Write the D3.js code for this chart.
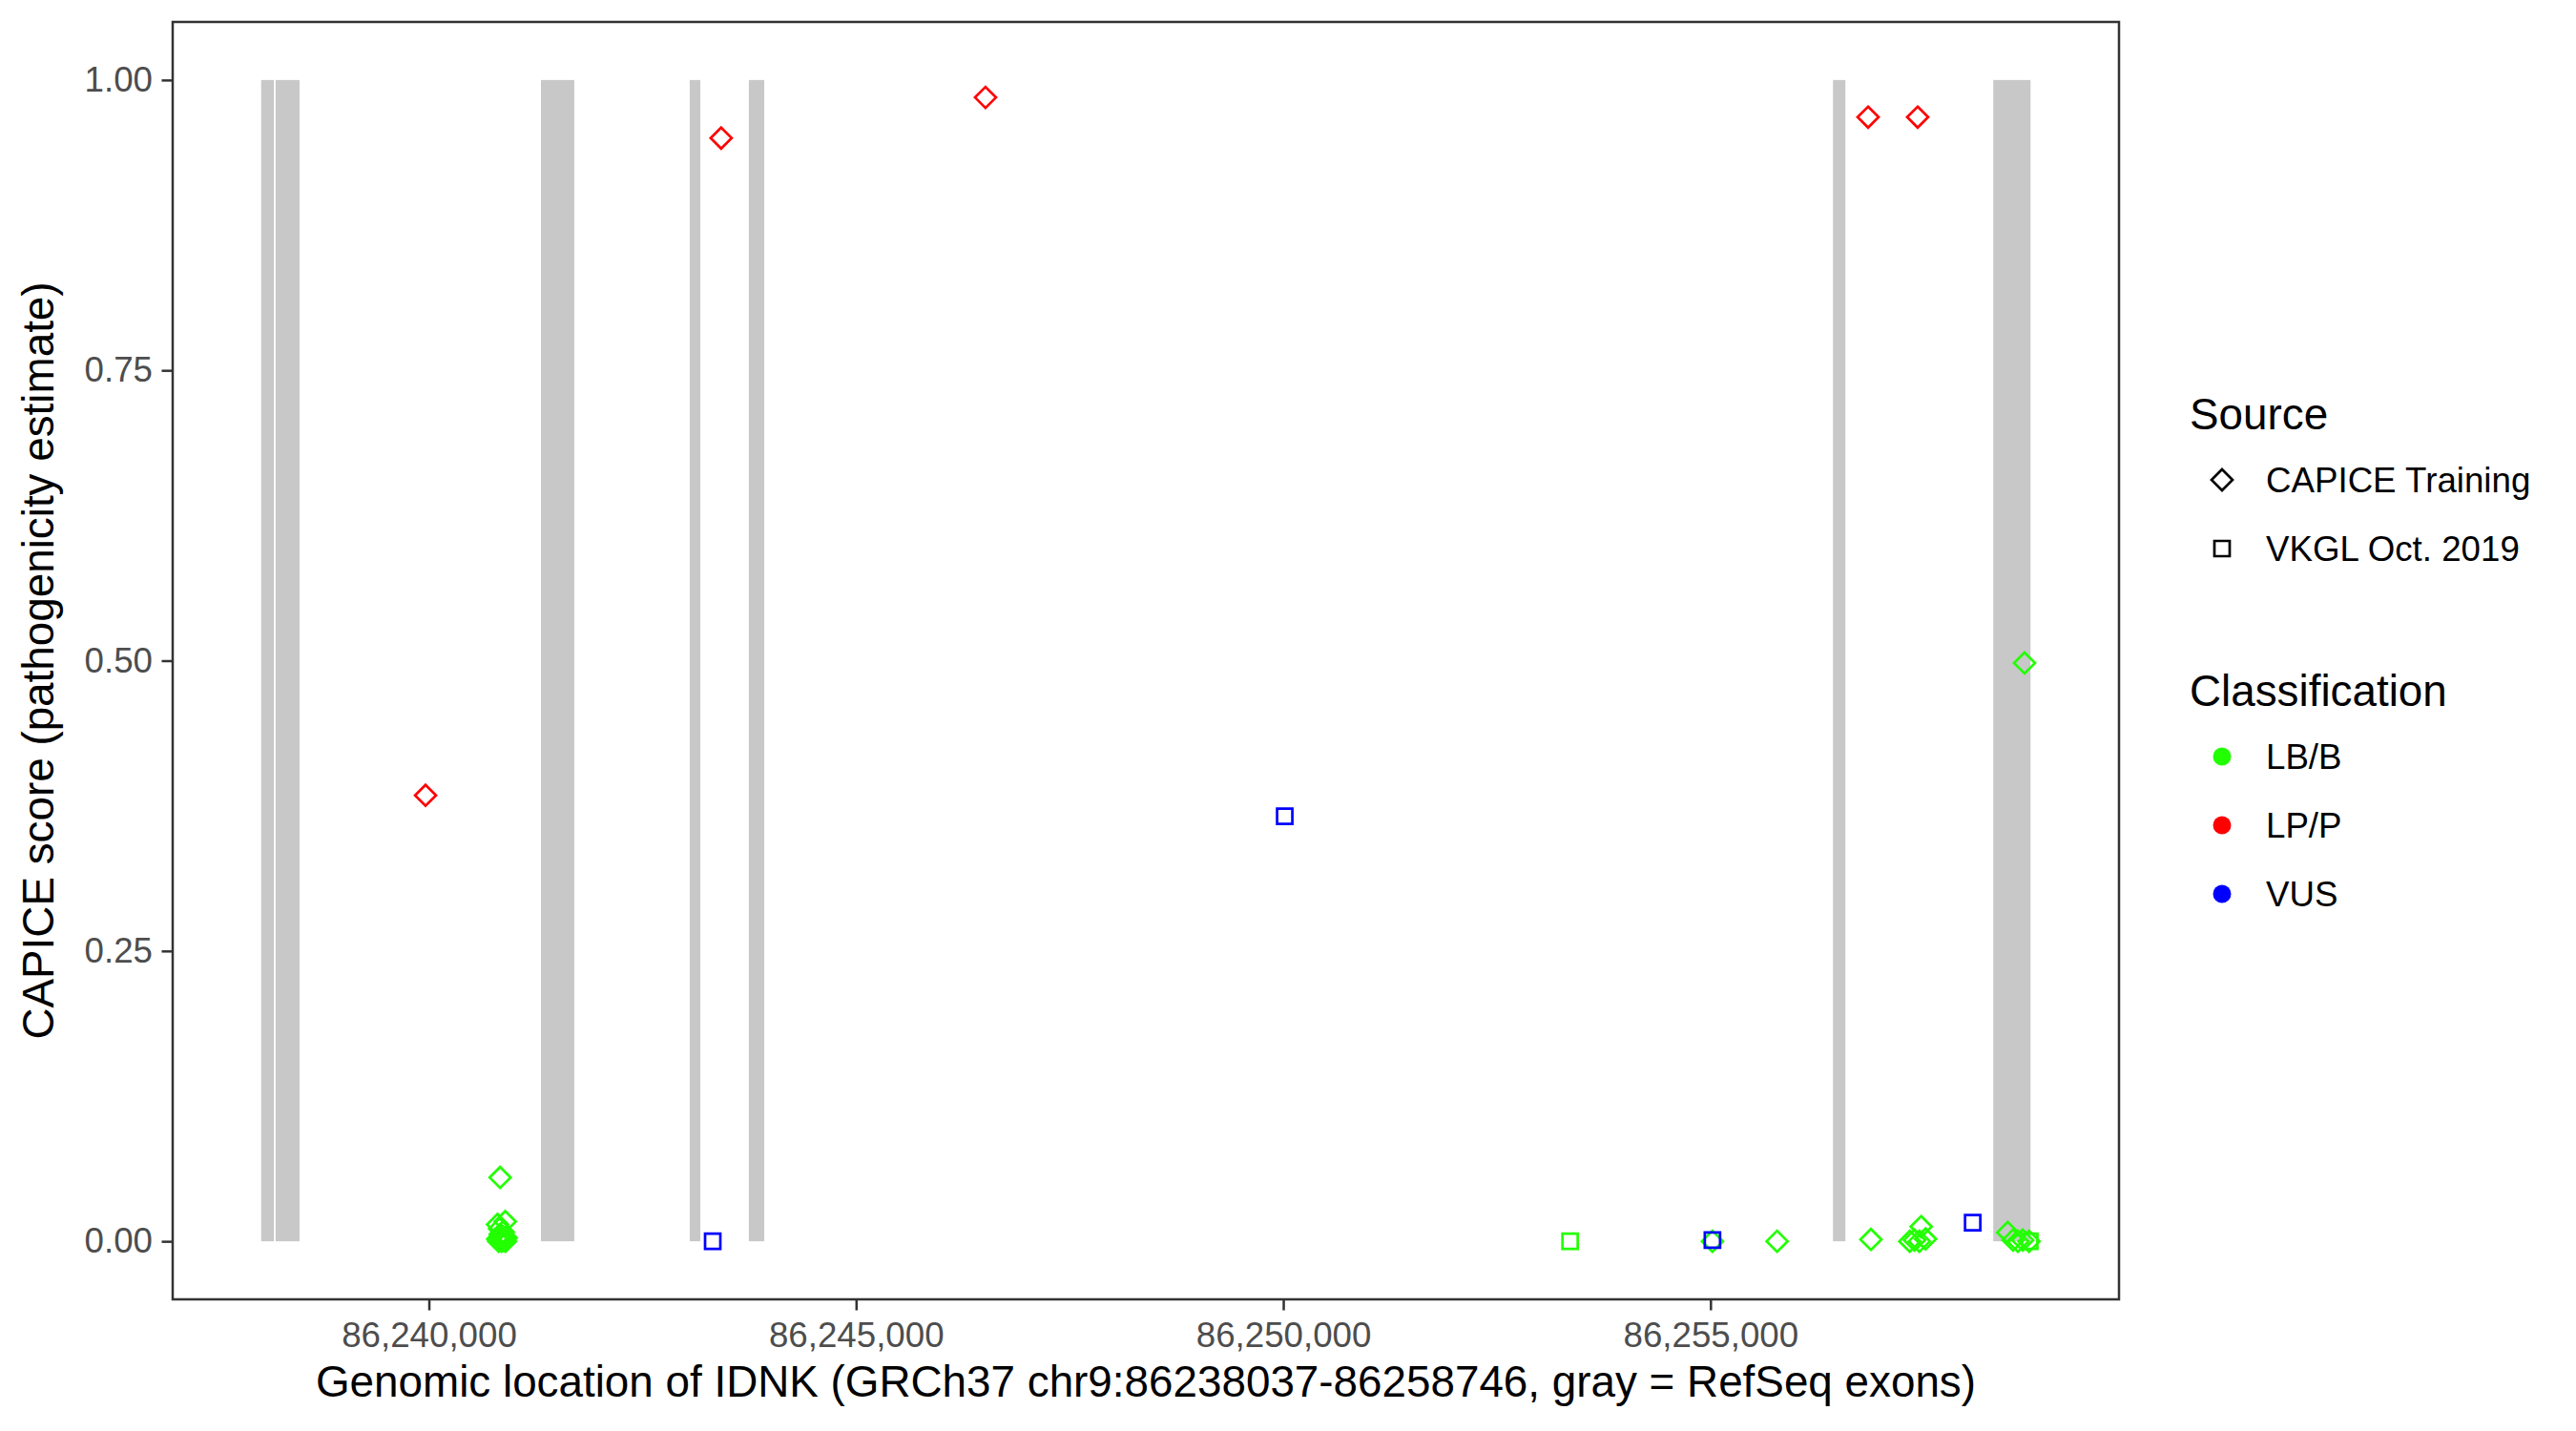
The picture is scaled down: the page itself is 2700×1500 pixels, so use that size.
<!DOCTYPE html>
<html>
<head>
<meta charset="utf-8">
<script src="https://cdn.jsdelivr.net/npm/d3@7"></script>
<style>
  body { margin: 0; background: #fff; }
  svg { display: block; font-family: "Liberation Sans", Arial, Helvetica, sans-serif; }
</style>
</head>
<body>
<div id="chart"></div>
<script>
// RefSeq exons of IDNK (gray bands)
const exonStart = [86238037, 86238206, 86241312, 86243053, 86243745, 86256434, 86258310];
const exonEnd   = [86238186, 86238486, 86241702, 86243177, 86243925, 86256579, 86258746];

// variants: position, CAPICE score, source, classification
const variantPos = [
  86239961, 86240834, 86240894, 86240804, 86240828,
  86240806, 86240818, 86240829, 86240841, 86240852, 86240863, 86240875, 86240886, 86240897, 86240905, 86240835, 86240870,
  86243421, 86246515,
  86255023, 86255780, 86256845, 86256878, 86257333, 86257389, 86257425, 86257445, 86257466, 86257518,
  86258479, 86258542, 86258598, 86258654, 86258676, 86258729,
  86243322, 86250017, 86253357, 86255023, 86258069, 86258737
];
const variantScore = [
  0.384, 0.055, 0.017, 0.0145, 0.0107,
  0.002, 0.000, 0.003, 0.001, 0.000, 0.004, 0.001, 0.002, 0.000, 0.003, 0.006, 0.008,
  0.950, 0.985,
  0.000, 0.000, 0.968, 0.0016, 0.000, 0.001, 0.968, 0.000, 0.0126, 0.002,
  0.0076, 0.001, 0.000, 0.001, 0.498, 0.000,
  0.000, 0.366, 0.000, 0.001, 0.016, 0.000
];
const variantSource = [
  "CAPICE Training", "CAPICE Training", "CAPICE Training", "CAPICE Training", "CAPICE Training",
  "CAPICE Training", "CAPICE Training", "CAPICE Training", "CAPICE Training", "CAPICE Training", "CAPICE Training",
  "CAPICE Training", "CAPICE Training", "CAPICE Training", "CAPICE Training", "CAPICE Training", "CAPICE Training",
  "CAPICE Training", "CAPICE Training",
  "CAPICE Training", "CAPICE Training", "CAPICE Training", "CAPICE Training", "CAPICE Training", "CAPICE Training",
  "CAPICE Training", "CAPICE Training", "CAPICE Training", "CAPICE Training",
  "CAPICE Training", "CAPICE Training", "CAPICE Training", "CAPICE Training", "CAPICE Training", "CAPICE Training",
  "VKGL Oct. 2019", "VKGL Oct. 2019", "VKGL Oct. 2019", "VKGL Oct. 2019", "VKGL Oct. 2019", "VKGL Oct. 2019"
];
const variantClass = [
  "LP/P", "LB/B", "LB/B", "LB/B", "LB/B",
  "LB/B", "LB/B", "LB/B", "LB/B", "LB/B", "LB/B", "LB/B", "LB/B", "LB/B", "LB/B", "LB/B", "LB/B",
  "LP/P", "LP/P",
  "LB/B", "LB/B", "LP/P", "LB/B", "LB/B", "LB/B", "LP/P", "LB/B", "LB/B", "LB/B",
  "LB/B", "LB/B", "LB/B", "LB/B", "LB/B", "LB/B",
  "VUS", "VUS", "LB/B", "VUS", "VUS", "LB/B"
];

const sources = ["CAPICE Training", "VKGL Oct. 2019"];
const classes = ["LB/B", "LP/P", "VUS"];
const classColors = ["#22ff00", "#ff0000", "#0000ff"];
const xTicks = [86240000, 86245000, 86250000, 86255000];
const yTicks = [0, 0.25, 0.5, 0.75, 1];

const geneStart = 86238037, geneEnd = 86258746;

const W = 2700, H = 1500;
const panel = { left: 181, right: 2221, top: 23, bottom: 1362 };

const svg = d3.select('#chart').append('svg')
  .attr('width', W).attr('height', H);
svg.append('rect').attr('width', W).attr('height', H).attr('fill', '#fff');

// ggplot-style 5% expansion
const xPad = (geneEnd - geneStart) * 0.05;
const x = d3.scaleLinear()
  .domain([geneStart - xPad, geneEnd + xPad])
  .range([panel.left, panel.right]);
const y = d3.scaleLinear()
  .domain([-0.05, 1.05])
  .range([panel.bottom, panel.top]);
const color = d3.scaleOrdinal().domain(classes).range(classColors);

const clip = svg.append('defs').append('clipPath').attr('id', 'panel-clip')
  .append('rect')
  .attr('x', panel.left).attr('y', panel.top)
  .attr('width', panel.right - panel.left).attr('height', panel.bottom - panel.top);

const plot = svg.append('g').attr('clip-path', 'url(#panel-clip)');

// exons
plot.append('g').selectAll('rect')
  .data(exonStart.map((s, i) => ({ s, e: exonEnd[i] })))
  .join('rect')
  .attr('x', d => x(d.s))
  .attr('width', d => x(d.e) - x(d.s))
  .attr('y', y(1))
  .attr('height', y(0) - y(1))
  .attr('fill', '#c8c8c8');

// points
const variants = variantPos.map((p, i) => ({
  pos: p, score: variantScore[i], source: variantSource[i], cls: variantClass[i]
}));

const dia = 11, sq = 8;
const diamondPath = `M0,${-dia}L${dia},0L0,${dia}L${-dia},0Z`;
const squarePath = `M${-sq},${-sq}H${sq}V${sq}H${-sq}Z`;

plot.append('g').selectAll('path')
  .data(variants)
  .join('path')
  .attr('transform', d => `translate(${x(d.pos)},${y(d.score)})`)
  .attr('d', d => d.source === sources[0] ? diamondPath : squarePath)
  .attr('fill', 'none')
  .attr('stroke', d => color(d.cls))
  .attr('stroke-width', 2.7);

// panel border
svg.append('rect')
  .attr('x', panel.left).attr('y', panel.top)
  .attr('width', panel.right - panel.left).attr('height', panel.bottom - panel.top)
  .attr('fill', 'none').attr('stroke', '#333333').attr('stroke-width', 2.5);

// axes
const xAxis = svg.append('g')
  .attr('transform', `translate(0,${panel.bottom})`)
  .call(d3.axisBottom(x).tickValues(xTicks).tickFormat(d3.format(',')).tickSize(11.5).tickPadding(12).tickSizeOuter(0));
const yAxis = svg.append('g')
  .attr('transform', `translate(${panel.left},0)`)
  .call(d3.axisLeft(y).tickValues(yTicks).tickFormat(d3.format('.2f')).tickSize(11.5).tickPadding(9.5).tickSizeOuter(0));

[xAxis, yAxis].forEach(a => {
  a.select('.domain').remove();
  a.selectAll('.tick line').attr('stroke', '#333333').attr('stroke-width', 2.5);
  a.selectAll('.tick text')
    .attr('fill', '#4d4d4d')
    .style('font-size', '36.7px')
    .style('font-family', '"Liberation Sans", Arial, sans-serif');
});

// axis titles
svg.append('text')
  .attr('x', (panel.left + panel.right) / 2).attr('y', 1464)
  .attr('text-anchor', 'middle')
  .style('font-size', '45.8px')
  .text('Genomic location of IDNK (GRCh37 chr9:86238037-86258746, gray = RefSeq exons)');

svg.append('text')
  .attr('transform', `translate(56,${(panel.top + panel.bottom) / 2}) rotate(-90)`)
  .attr('text-anchor', 'middle')
  .style('font-size', '45.8px')
  .text('CAPICE score (pathogenicity estimate)');

// legends
const legend = svg.append('g');
const keyX = 2329, labelX = 2375;

legend.append('text').attr('x', 2295).attr('y', 450)
  .style('font-size', '45.8px').text('Source');
const srcKeys = legend.append('g').selectAll('g')
  .data(sources).join('g')
  .attr('transform', (d, i) => `translate(${keyX},${503 + i * 72})`);
srcKeys.append('path')
  .attr('d', (d, i) => i === 0 ? diamondPath : squarePath)
  .attr('fill', 'none').attr('stroke', '#000').attr('stroke-width', 2.7);
srcKeys.append('text')
  .attr('x', labelX - keyX).attr('y', 13)
  .style('font-size', '36.7px').text(d => d);

legend.append('text').attr('x', 2295).attr('y', 740)
  .style('font-size', '45.8px').text('Classification');
const clsKeys = legend.append('g').selectAll('g')
  .data(classes).join('g')
  .attr('transform', (d, i) => `translate(${keyX},${793 + i * 72})`);
clsKeys.append('circle')
  .attr('r', 9.5).attr('fill', d => color(d));
clsKeys.append('text')
  .attr('x', labelX - keyX).attr('y', 13)
  .style('font-size', '36.7px').text(d => d);
</script>
</body>
</html>
